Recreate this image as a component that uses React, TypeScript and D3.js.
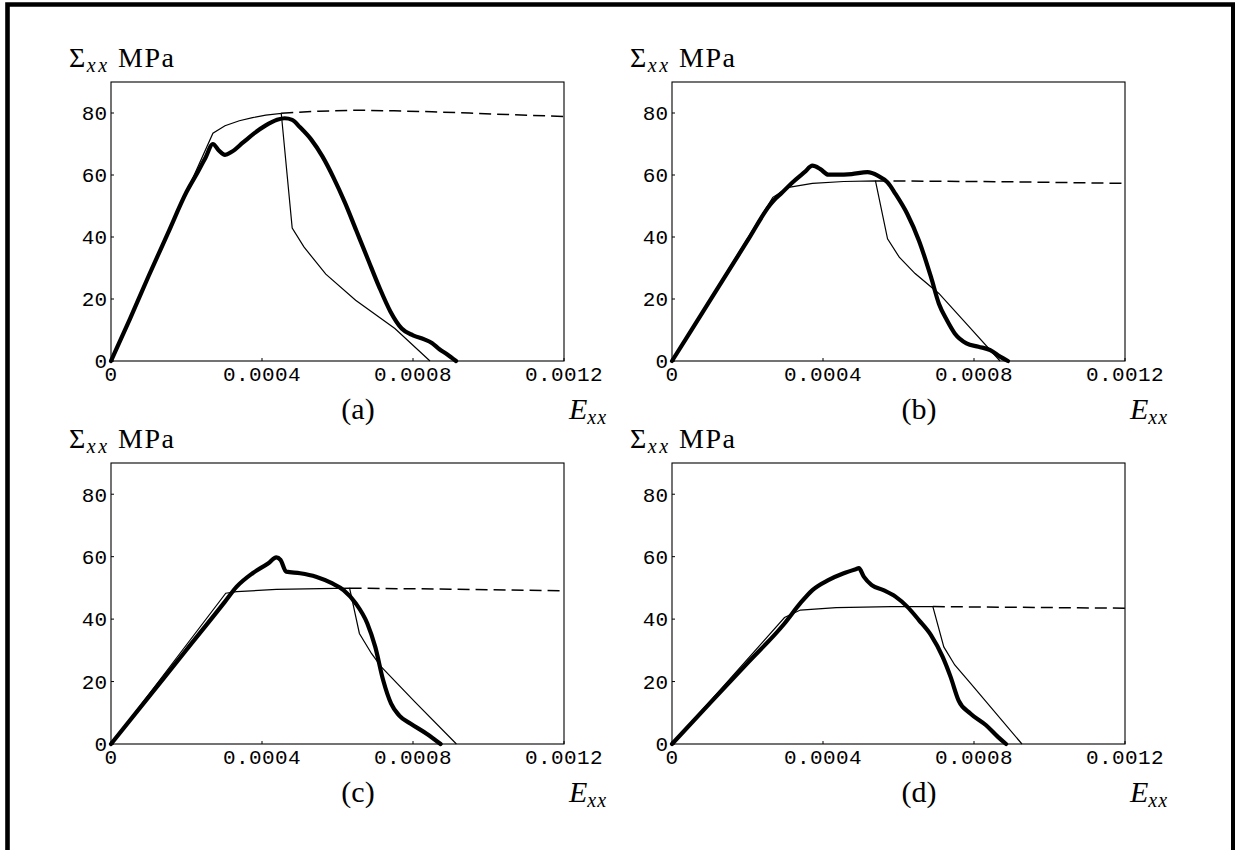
import React from "react";
import * as d3 from "d3";

type P = [number, number];

const xTicks = [0, 0.0004, 0.0008, 0.0012];
const xTickLabels = ["0", "0.0004", "0.0008", "0.0012"];
const yTicks = [0, 20, 40, 60, 80];
const yTickLabels = ["0", "20", "40", "60", "80"];
const xDomain: P = [0, 0.0012];
const yDomain: P = [0, 90];
const panelLabels = ["(a)", "(b)", "(c)", "(d)"];

// Panel (a)
const expA: P[] = [
  [0, 0], [0.00005, 13.5], [0.0001, 27.5], [0.00015, 41], [0.0002, 54.5], [0.00023, 61],
  [0.00025, 65.5], [0.00027, 70], [0.000285, 68], [0.000302, 66.5], [0.00032, 67.5],
  [0.00035, 70.5], [0.00038, 73.5], [0.00041, 76], [0.00044, 77.8], [0.00046, 78.3],
  [0.00048, 77.8], [0.0005, 75.5], [0.00053, 71.5], [0.00056, 66], [0.00059, 59],
  [0.00062, 51], [0.00065, 42], [0.00068, 33], [0.00071, 24], [0.00074, 16],
  [0.00077, 10.5], [0.0008, 8.3], [0.00083, 7.0], [0.00085, 5.8], [0.00087, 3.8],
  [0.00089, 2.2], [0.000914, 0],
];
const modelA: P[] = [
  [0, 0], [0.00027, 73.5], [0.000302, 75.9], [0.00034, 77.5], [0.000375, 78.5],
  [0.00041, 79.3], [0.000451, 79.9], [0.00048, 42.9], [0.000511, 36.8], [0.000569, 28.0],
  [0.000648, 19.6], [0.000752, 10.5], [0.000845, 0],
];
const dashA: P[] = [
  [0.000451, 79.9], [0.00055, 80.6], [0.00065, 80.9], [0.00075, 80.7], [0.00085, 80.4],
  [0.00095, 80.0], [0.00105, 79.5], [0.0012, 78.9],
];

// Panel (b)
const expB: P[] = [
  [0, 0], [0.0001, 19.4], [0.0002, 38.8], [0.00026, 50.4], [0.000275, 52.5], [0.000288, 53.9],
  [0.000319, 57.6], [0.000351, 60.9], [0.000372, 63.0], [0.000393, 61.9], [0.000414, 60.1],
  [0.000435, 60.1], [0.000476, 60.3], [0.000518, 60.9], [0.000545, 59.8], [0.000571, 57.6],
  [0.000592, 53.9], [0.000623, 47.5], [0.000654, 38.9], [0.000686, 27.1], [0.000707, 18.5],
  [0.000728, 13.2], [0.000749, 8.9], [0.00078, 5.7], [0.000812, 4.6], [0.000843, 3.5],
  [0.000869, 1.4], [0.00089, 0],
];
const modelB: P[] = [
  [0, 0], [0.000267, 52.8], [0.000309, 56.0], [0.000372, 57.3], [0.000455, 57.9],
  [0.000539, 58.1], [0.000571, 39.4], [0.000602, 33.5], [0.000644, 28.2], [0.000707, 21.8],
  [0.000791, 10.5], [0.000869, 0],
];
const dashB: P[] = [
  [0.000539, 58.1], [0.0007, 58.0], [0.0009, 57.8], [0.0012, 57.3],
];

// Panel (c)
const expC: P[] = [
  [0, 0], [0.0001, 15.1], [0.0002, 30.2], [0.000302, 45.6], [0.000333, 50.4],
  [0.000375, 54.7], [0.000417, 57.9], [0.000438, 59.8], [0.000449, 59.0], [0.000464, 55.2],
  [0.000501, 54.7], [0.000543, 53.6], [0.000585, 51.5], [0.000616, 49.3], [0.000648, 45.1],
  [0.000679, 38.6], [0.0007, 31.1], [0.000721, 20.4], [0.000742, 12.9], [0.000763, 9.2],
  [0.000794, 6.5], [0.000836, 3.3], [0.000873, 0],
];
const modelC: P[] = [
  [0, 0], [0.000304, 48.3], [0.000333, 48.8], [0.000438, 49.5], [0.000632, 49.9],
  [0.000658, 35.4], [0.00069, 29.0], [0.000716, 24.7], [0.000805, 13.5], [0.000915, 0],
];
const dashC: P[] = [
  [0.000632, 49.9], [0.0009, 49.6], [0.0012, 49.1],
];

// Panel (d)
const expD: P[] = [
  [0, 0], [0.0001, 13.0], [0.0002, 25.9], [0.000298, 38.6], [0.00034, 45.1],
  [0.000372, 49.3], [0.000414, 52.5], [0.000455, 54.7], [0.000487, 56.0], [0.000495, 56.3],
  [0.000508, 53.6], [0.000529, 50.9], [0.00056, 49.3], [0.000592, 47.2], [0.000623, 44.0],
  [0.000654, 39.7], [0.000686, 34.9], [0.000717, 27.9], [0.000738, 21.5], [0.000759, 14.0],
  [0.000791, 9.7], [0.000832, 6.0], [0.000864, 2.2], [0.000885, 0],
];
const modelD: P[] = [
  [0, 0], [0.000298, 40.5], [0.00034, 42.9], [0.000435, 43.7], [0.000581, 44.0],
  [0.000691, 44.0], [0.00072, 31.1], [0.000749, 25.3], [0.000791, 19.4], [0.000927, 0],
];
const dashD: P[] = [
  [0.000691, 44.0], [0.0009, 43.8], [0.0012, 43.5],
];

const panels = [
  { label: panelLabels[0], exp: expA, model: modelA, dash: dashA, left: 111, top: 82, right: 564, bottom: 361 },
  { label: panelLabels[1], exp: expB, model: modelB, dash: dashB, left: 672, top: 82, right: 1125, bottom: 361 },
  { label: panelLabels[2], exp: expC, model: modelC, dash: dashC, left: 111, top: 463, right: 564, bottom: 744 },
  { label: panelLabels[3], exp: expD, model: modelD, dash: dashD, left: 672, top: 463, right: 1125, bottom: 744 },
];

const serif = "'Liberation Serif', 'DejaVu Serif', serif";
const mono = "'Liberation Mono', 'DejaVu Sans Mono', monospace";

function Panel({ p }: { p: (typeof panels)[number] }) {
  const x = d3.scaleLinear().domain(xDomain).range([p.left, p.right]);
  const y = d3.scaleLinear().domain(yDomain).range([p.bottom, p.top]);
  const line = d3.line<P>().x((d) => x(d[0])).y((d) => y(d[1]));
  const curve = d3.line<P>().x((d) => x(d[0])).y((d) => y(d[1])).curve(d3.curveMonotoneX);
  return (
    <g>
      <rect x={p.left} y={p.top} width={p.right - p.left} height={p.bottom - p.top} fill="none" stroke="#000" strokeWidth={1.1} />
      {xTicks.map((t, i) => (
        <g key={"xt" + i}>
          <line x1={x(t)} x2={x(t)} y1={p.bottom} y2={p.bottom - 3} stroke="#000" strokeWidth={1} />
          <text x={x(t)} y={p.bottom + 20} textAnchor="middle" fontFamily={mono} fontSize={21} letterSpacing={0.4}>{xTickLabels[i]}</text>
        </g>
      ))}
      {yTicks.map((t, i) => (
        <g key={"yt" + i}>
          <line x1={p.left} x2={p.left + 3} y1={y(t)} y2={y(t)} stroke="#000" strokeWidth={1} />
          <text x={p.left - 4} y={y(t)} dy="0.35em" textAnchor="end" fontFamily={mono} fontSize={21}>{yTickLabels[i]}</text>
        </g>
      ))}
      <path d={line(p.dash) || ""} fill="none" stroke="#000" strokeWidth={1.5} strokeDasharray="12,6" />
      <path d={line(p.model) || ""} fill="none" stroke="#000" strokeWidth={1.2} />
      <path d={curve(p.exp) || ""} fill="none" stroke="#000" strokeWidth={4.2} strokeLinejoin="round" strokeLinecap="round" />
      <text x={p.left - 42} y={p.top - 15} fontFamily={serif} fontSize={28} letterSpacing={1.5}>
        Σ<tspan fontStyle="italic" fontSize={20} dy={5} letterSpacing={2.5}>xx</tspan>
        <tspan dy={-5}> MPa</tspan>
      </text>
      <text x={p.left + 247} y={p.bottom + 58} textAnchor="middle" fontFamily={serif} fontSize={30}>{p.label}</text>
      <text x={p.right + 5} y={p.bottom + 58} fontFamily={serif} fontSize={30} fontStyle="italic">
        E<tspan fontSize={20} dy={5} letterSpacing={1}>xx</tspan>
      </text>
    </g>
  );
}

export default function App() {
  return (
    <svg width={1235} height={850} style={{ position: "absolute", left: 0, top: 0, background: "#fff" }}>
      <rect x={0} y={0} width={1235} height={850} fill="#fff" />
      <path d="M7.5,860 V4.5 H1233.3 V860" fill="none" stroke="#000" strokeWidth={4.6} />
      {panels.map((p, i) => (
        <Panel key={i} p={p} />
      ))}
    </svg>
  );
}
